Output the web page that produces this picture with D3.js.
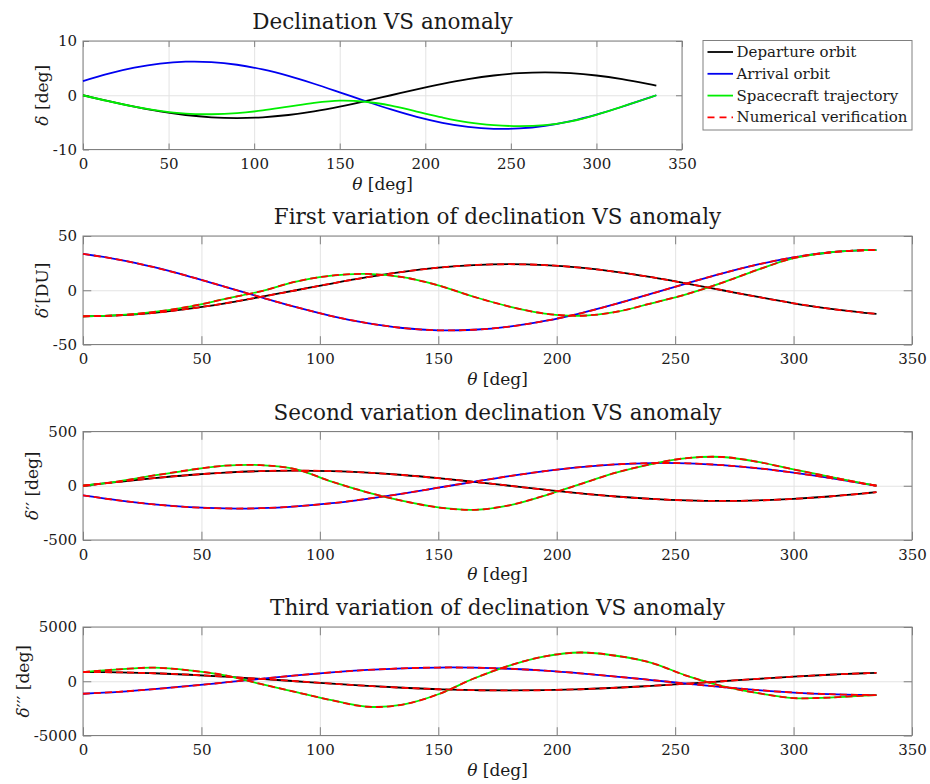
<!DOCTYPE html>
<html>
<head>
<meta charset="utf-8">
<script src="https://cdn.jsdelivr.net/npm/d3@7"></script>
<style>
  body { margin: 0; background: #fff; }
  svg text { font-family: "DejaVu Serif", serif; fill: #1a1a1a; }
</style>
</head>
<body>
<div id="chart-area"></div>
<script>

//**************** Data *****************//

// true anomaly samples [deg]
let theta = [0, 15, 30, 45, 60, 75, 90, 105, 120, 135, 150, 165, 180,
	195, 210, 225, 240, 255, 270, 285, 300, 315, 330, 335];

// declination [deg]
let decDeparture = [0, -1.09, -2.1, -2.97, -3.64, -4.06, -4.2, -4.06, -3.64, -2.97, -2.1, -1.09, 0,
	1.09, 2.1, 2.97, 3.64, 4.06, 4.2, 4.06, 3.64, 2.97, 2.1, 1.77];
let decArrival = [2.62, 3.99, 5.08, 5.83, 6.18, 6.11, 5.62, 4.75, 3.56, 2.12, 0.54, -1.08, -2.62,
	-3.99, -5.08, -5.83, -6.18, -6.11, -5.62, -4.75, -3.56, -2.12, -0.54, 0];
let decTrajectory = [0, -1.1, -2.1, -2.9, -3.4, -3.5, -3.3, -2.8, -2.1, -1.4, -1.0, -1.2, -1.9,
	-3.0, -4.1, -5.0, -5.5, -5.7, -5.5, -4.8, -3.6, -2.1, -0.55, 0];

// first variation [DU]
let d1Departure = [-24, -23.2, -20.8, -17, -12, -6.2, 0, 6.2, 12, 17, 20.8, 23.2, 24,
	23.2, 20.8, 17, 12, 6.2, 0, -6.2, -12, -17, -20.8, -21.75];
let d1Arrival = [33.5, 28.3, 21.2, 12.65, 3.2, -6.4, -15.6, -23.8, -30.3, -34.8, -36.9, -36.4, -33.5,
	-28.3, -21.2, -12.65, -3.2, 6.4, 15.6, 23.8, 30.3, 34.8, 36.9, 37];
let d1Trajectory = [-24, -23, -20, -15, -8, -1, 8, 13.5, 15, 12, 4.5, -6, -15,
	-21.5, -23.5, -20, -12, -3.5, 7, 19, 29.5, 34.8, 36.9, 37];

// second variation [deg]
let d2Departure = [0, 36, 70, 99, 121, 135, 140, 135, 121, 99, 70, 36, 0,
	-36, -70, -99, -121, -135, -140, -135, -121, -99, -70, -59];
let d2Arrival = [-89, -135, -172, -197, -209, -207, -190, -161, -120, -72, -18, 36.5, 89,
	135, 172, 197, 209, 207, 190, 161, 120, 72, 18, 0];
let d2Trajectory = [0, 40, 95, 145, 185, 190, 152, 38, -60, -140, -200, -222, -180,
	-90, 15, 120, 200, 255, 265, 220, 150, 85, 20, 0];

// third variation [deg]
let d3Departure = [850, 821, 736, 601, 425, 220, 0, -220, -425, -601, -736, -821, -850,
	-821, -736, -601, -425, -220, 0, 220, 425, 601, 736, 770];
let d3Arrival = [-1151, -973, -728, -434, -111, 221, 537, 816, 1040, 1193, 1265, 1251, 1151,
	973, 728, 434, 111, -221, -537, -816, -1040, -1193, -1265, -1270];
let d3Trajectory = [850, 1100, 1250, 1000, 550, -250, -1000, -1750, -2350, -2150, -1200, 250, 1450,
	2300, 2650, 2350, 1700, 500, -450, -1100, -1550, -1500, -1320, -1280];

let seriesNames = ['Departure orbit', 'Arrival orbit', 'Spacecraft trajectory', 'Numerical verification'];
let seriesColors = ['#000000', '#0000f0', '#00ee00', '#ff0000'];

let xTicks = [0, 50, 100, 150, 200, 250, 300, 350];

let font = '"DejaVu Serif", serif';


//**************** Canvas *****************//

let svg = d3.select('#chart-area').append('svg')
	.attr('width', 930)
	.attr('height', 784);

let panels = [
	{ title: 'Declination VS anomaly', ylab: ['δ', ' [deg]'], domain: [-10, 10],
		series: [decDeparture, decArrival, decTrajectory], verify: false,
		left: 83, top: 41, width: 599 },
	{ title: 'First variation of declination VS anomaly', ylab: ['δ', '′[DU]'], domain: [-50, 50],
		series: [d1Departure, d1Arrival, d1Trajectory], verify: true,
		left: 83, top: 236, width: 829 },
	{ title: 'Second variation declination VS anomaly', ylab: ['δ', '′′ [deg]'], domain: [-500, 500],
		series: [d2Departure, d2Arrival, d2Trajectory], verify: true,
		left: 83, top: 431.5, width: 829 },
	{ title: 'Third variation of declination VS anomaly', ylab: ['δ', '′′′ [deg]'], domain: [-5000, 5000],
		series: [d3Departure, d3Arrival, d3Trajectory], verify: true,
		left: 83, top: 627, width: 829 }
];

let height = 108.5;

panels.forEach(p => drawPanel(p));


function drawPanel(p) {

	let g = svg.append('g')
		.attr('transform', 'translate(' + p.left + ', ' + p.top + ')');

	let x = d3.scaleLinear().domain([0, 350]).range([0, p.width]);
	let y = d3.scaleLinear().domain(p.domain).range([height, 0]);
	let yTicks = [p.domain[0], 0, p.domain[1]];
	let tick = p.width * 0.01;

	// grid
	g.append('g')
		.attr('class', 'grid')
		.call(d3.axisBottom(x).tickValues(xTicks).tickSize(height).tickFormat(''))
		.call(s => s.select('.domain').remove())
		.selectAll('line').attr('stroke', '#e3e3e3');
	g.append('g')
		.attr('class', 'grid')
		.call(d3.axisRight(y).tickValues(yTicks).tickSize(p.width).tickFormat(''))
		.call(s => s.select('.domain').remove())
		.selectAll('line').attr('stroke', '#e3e3e3');

	// axes, ticks pointing inwards
	g.append('g')
		.attr('transform', 'translate(0, ' + height + ')')
		.call(d3.axisBottom(x).tickValues(xTicks).tickFormat(d => String(d))
			.tickSizeInner(-tick).tickSizeOuter(0).tickPadding(9));
	let yAxisGroup = g.append('g')
		.call(d3.axisLeft(y).tickValues(yTicks).tickFormat(d => String(d))
			.tickSizeInner(-tick).tickSizeOuter(0).tickPadding(6));
	g.append('g')
		.call(d3.axisTop(x).tickValues(xTicks).tickSizeInner(-tick).tickSizeOuter(0).tickFormat(''));
	g.append('g')
		.attr('transform', 'translate(' + p.width + ', 0)')
		.call(d3.axisRight(y).tickValues(yTicks).tickSizeInner(-tick).tickSizeOuter(0).tickFormat(''));

	g.selectAll('.domain').remove();
	g.selectAll('.tick line').filter(function() { return !this.closest('.grid'); })
		.attr('stroke', '#808080');
	g.selectAll('.tick text')
		.attr('font-family', font)
		.attr('font-size', '15px')
		.attr('fill', '#1a1a1a');

	// box
	g.append('rect')
		.attr('width', p.width)
		.attr('height', height)
		.attr('fill', 'none')
		.attr('stroke', '#808080')
		.attr('stroke-width', 1);

	// lines
	let line = d3.line()
		.x((d, i) => x(theta[i]))
		.y(d => y(d))
		.curve(d3.curveCatmullRom);

	p.series.forEach((s, i) => {
		g.append('path')
			.attr('d', line(s))
			.attr('fill', 'none')
			.attr('stroke', seriesColors[i])
			.attr('stroke-width', 1.8);
	});

	if (p.verify) {
		p.series.forEach(s => {
			g.append('path')
				.attr('d', line(s))
				.attr('fill', 'none')
				.attr('stroke', seriesColors[3])
				.attr('stroke-width', 1.8)
				.attr('stroke-dasharray', '7,4');
		});
	}

	// labels
	g.append('text')
		.attr('x', p.width / 2)
		.attr('y', -12)
		.attr('font-size', '21.5px')
		.attr('text-anchor', 'middle')
		.text(p.title);

	let xLabel = g.append('text')
		.attr('x', p.width / 2)
		.attr('y', height + 40)
		.attr('font-size', '17px')
		.attr('text-anchor', 'middle');
	xLabel.append('tspan').attr('font-style', 'italic').text('θ');
	xLabel.append('tspan').text(' [deg]');

	let maxW = d3.max(yAxisGroup.selectAll('text').nodes(), n => n.getComputedTextLength());
	let yLabel = g.append('text')
		.attr('transform', 'translate(' + (-6 - maxW - 5) + ', ' + (height / 2) + ') rotate(-90)')
		.attr('font-size', '17px')
		.attr('text-anchor', 'middle');
	yLabel.append('tspan').attr('font-style', 'italic').text(p.ylab[0]);
	yLabel.append('tspan').text(p.ylab[1]);
}


//**************** Legend *****************//

let legend = svg.append('g')
	.attr('transform', 'translate(703, 40.5)');

legend.append('rect')
	.attr('width', 209)
	.attr('height', 89.5)
	.attr('fill', '#fff')
	.attr('stroke', '#808080');

seriesNames.forEach((name, i) => {
	let row = legend.append('g')
		.attr('transform', 'translate(0, ' + (11.5 + i * 21.8) + ')');
	row.append('line')
		.attr('x1', 4.5)
		.attr('x2', 30)
		.attr('stroke', seriesColors[i])
		.attr('stroke-width', 1.8)
		.attr('stroke-dasharray', i === 3 ? '7,5' : null);
	row.append('text')
		.attr('x', 33.5)
		.attr('dy', '0.33em')
		.attr('font-size', '15px')
		.text(name);
});

</script>
</body>
</html>
